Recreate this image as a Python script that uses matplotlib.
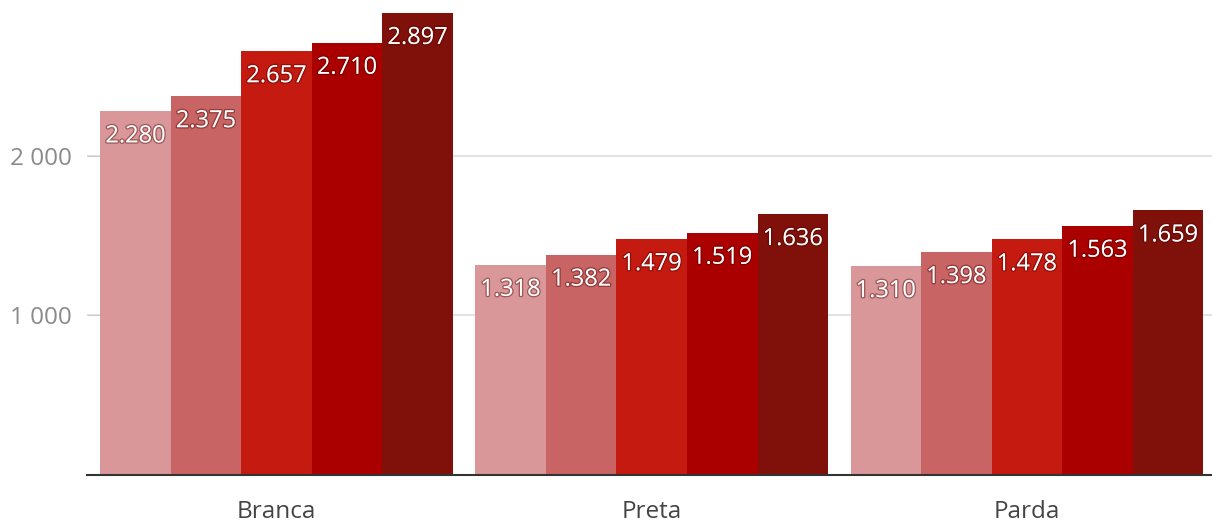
import matplotlib
matplotlib.use("Agg")
import matplotlib.pyplot as plt
import matplotlib.patheffects as pe
import numpy as np

categories = ["Branca", "Preta", "Parda"]
series_values = [
    [2280, 1318, 1310],
    [2375, 1382, 1398],
    [2657, 1479, 1478],
    [2710, 1519, 1563],
    [2897, 1636, 1659],
]
value_labels = [
    ["2.280", "1.318", "1.310"],
    ["2.375", "1.382", "1.398"],
    ["2.657", "1.479", "1.478"],
    ["2.710", "1.519", "1.563"],
    ["2.897", "1.636", "1.659"],
]
colors = ["#D9979A", "#C86464", "#C41A10", "#AA0000", "#80110A"]
yticks = [1000, 2000]
ytick_labels = ["1 000", "2 000"]

plt.rcParams['font.family'] = ['Open Sans', 'DejaVu Sans']

W, H = 1212, 525
fig = plt.figure(figsize=(W / 100, H / 100), dpi=100)
ax = fig.add_axes([87 / W, 50 / H, 1 - 87 / W, 475 / H])

n = len(series_values)
group_w = 0.94
bw = group_w / n
x = np.arange(len(categories))
for i, vals in enumerate(series_values):
    xs = x - group_w / 2 + bw * (i + 0.5)
    ax.bar(xs, vals, width=bw, color=colors[i], zorder=2, linewidth=0)
    for xx, v, lab in zip(xs, vals, value_labels[i]):
        ax.annotate(lab, (xx, v), xytext=(0, -25), textcoords="offset pixels",
                    ha="center", va="center", color="white", fontsize=17,
                    zorder=3,
                    path_effects=[pe.withStroke(linewidth=2.0, foreground=(0.3, 0, 0, 0.4))])

ax.set_xlim(-0.505, 2.493)
ax.set_ylim(0, 2978)
ax.set_yticks(yticks)
ax.set_yticklabels(ytick_labels)
ax.set_xticks(x)
ax.set_xticklabels(categories)
ax.grid(axis="y", color="#DDDDDD", linewidth=1.2, zorder=0)
ax.tick_params(axis="y", direction="in", length=10, color="#CCCCCC", labelsize=17.5,
               labelcolor="#8A8A8A", pad=11)
ax.tick_params(axis="x", length=0, labelsize=17.5, labelcolor="#444444", pad=18)
for s in ["top", "right", "left"]:
    ax.spines[s].set_visible(False)
ax.spines["bottom"].set_color("#333333")
ax.spines["bottom"].set_linewidth(1.5)
ax.spines["bottom"].set_zorder(4)

fig.savefig("out.png", dpi=100, facecolor="white")
